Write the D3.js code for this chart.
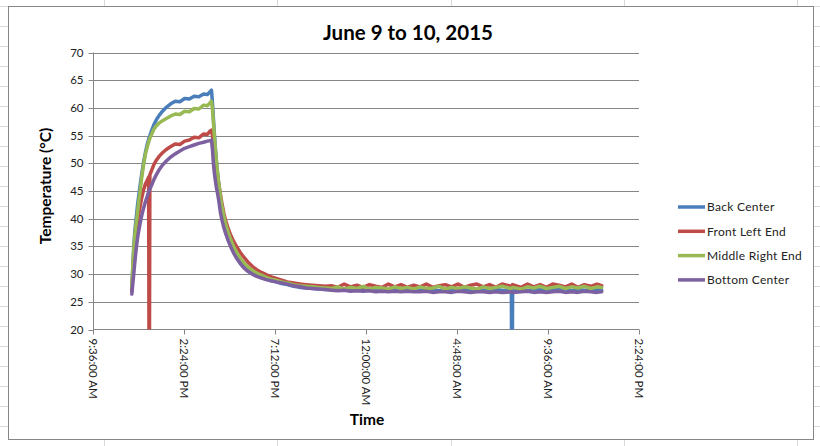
<!DOCTYPE html>
<html><head><meta charset="utf-8">
<script src="https://cdn.jsdelivr.net/npm/d3@7"></script>
<style>body{margin:0;background:#fff;} svg{display:block}</style>
</head><body>
<svg id="c" width="820" height="446"></svg>
<script>
const chartTitle = "June 9 to 10, 2015";
const xTitle = "Time";
const yTitle = "Temperature (°C)";
const seriesNames = ["Back Center", "Front Left End", "Middle Right End", "Bottom Center"];
const seriesColors = ["#4A7EBB", "#BE4B48", "#98B954", "#7D60A0"];
// minutes after 9:36 AM, June 9, 2015
const minutesAfterStart = [
  123,126,129,132,135,138,141,145,149,154,160,166,172,176,178,180,186,193,201,210,220,232,245,260,275,290,305,320,335,350,362,370,375,
  378,381,384,387,390,394,398,403,408,414,420,428,436,445,455,466,478,490,504,518,533,548,564,580,597,615,635,655,675,695,715,735,
  755,775,795,815,835,855,875,895,915,935,955,975,995,1015,1035,1055,1075,1095,1115,1135,1155,1175,1195,1215,1235,1255,1275,1295,1324,1326,1328,1355,1375,1395,1415,1435,1455,1475,1495,1515,1535,1555,1575,1595,1610
];
const backCenter = [
  27.0,31.5,35.0,37.5,39.3,40.8,42.5,44.3,46.0,48.0,50.2,52.0,53.5,54.3,54.7,55.0,56.0,57.0,57.9,58.7,59.4,60.1,60.7,61.2,61.1,61.7,61.6,62.1,62.0,62.5,62.4,62.9,63.2,
  61.0,58.2,55.5,53.0,50.8,48.3,46.0,43.8,41.9,40.1,38.6,37.1,35.8,34.6,33.5,32.5,31.7,31.0,30.4,29.9,29.5,29.1,28.8,28.6,28.3,28.1,27.8,27.6,27.5,27.4,27.3,27.2,
  27.2,27.1,27.3,27.1,27.2,27.1,27.2,27.0,27.2,27.1,27.2,27.0,27.1,27.2,27.0,27.1,27.2,27.0,27.1,27.2,27.1,27.0,27.1,27.2,27.0,27.1,27.2,27.1,27.0,0,27.1,27.2,27.0,27.1,27.2,27.0,27.1,27.2,27.1,27.0,27.2,27.1,27.0,27.2,27.1
];
const frontLeftEnd = [
  26.9,30.5,33.2,35.3,37.0,38.4,39.6,40.9,42.2,43.7,45.2,46.3,47.0,47.5,0,47.9,48.8,49.8,50.6,51.3,51.9,52.5,53.0,53.5,53.4,54.0,54.2,54.7,54.6,55.3,55.2,55.8,56.0,
  55.0,53.5,52.0,50.6,49.3,47.8,46.3,44.5,42.8,41.0,39.6,38.2,37.0,35.9,34.9,33.9,33.0,32.2,31.4,30.8,30.3,29.9,29.5,29.2,28.9,28.6,28.4,28.2,28.1,28.0,27.9,27.8,
  27.9,27.6,28.2,27.7,28.0,27.6,28.1,27.8,27.6,28.2,27.7,28.1,27.6,28.0,27.7,28.2,27.6,27.9,28.1,27.7,28.2,27.6,28.0,28.2,27.7,28.1,27.6,28.2,27.8,27.7,28.1,27.6,28.2,27.7,28.1,27.6,28.2,28.0,27.7,28.2,27.6,28.1,27.8,28.2,27.9
];
const middleRightEnd = [
  27.7,31.5,34.5,36.8,38.5,39.7,41.2,43.2,45.0,47.3,49.7,51.7,53.0,53.8,54.2,54.5,55.3,56.2,56.8,57.3,57.7,58.1,58.5,58.9,58.8,59.4,59.3,59.9,59.8,60.5,60.4,60.9,61.2,
  59.8,57.5,55.0,52.8,50.8,48.5,46.4,44.2,42.3,40.5,39.0,37.5,36.2,35.0,33.9,32.9,32.0,31.3,30.7,30.2,29.8,29.4,29.1,28.9,28.6,28.4,28.1,27.9,27.8,27.7,27.6,27.5,
  27.4,27.7,27.3,27.6,27.4,27.8,27.3,27.6,27.5,27.3,27.7,27.4,27.6,27.3,27.7,27.4,27.5,27.8,27.3,27.6,27.4,27.7,27.5,27.3,27.7,27.4,27.6,27.8,27.4,27.5,27.6,27.3,27.7,27.5,27.8,27.4,27.6,27.8,27.4,27.7,27.5,27.8,27.4,27.7,27.6
];
const bottomCenter = [
  26.4,28.3,30.0,31.9,33.6,35.2,36.5,37.9,39.1,40.5,41.9,43.1,44.1,44.8,45.1,45.4,46.1,47.1,48.0,48.9,49.7,50.4,51.1,51.7,52.2,52.7,53.0,53.3,53.6,53.8,54.0,54.1,54.2,
  52.5,50.0,48.3,47.0,45.8,44.6,43.3,41.2,39.8,38.4,37.3,36.0,34.9,33.8,32.8,31.9,31.1,30.5,30.0,29.6,29.3,29.0,28.8,28.6,28.4,28.2,27.9,27.7,27.5,27.4,27.3,27.2,
  27.1,27.0,27.1,26.9,27.0,26.9,27.0,26.8,26.9,26.8,26.9,26.8,26.9,26.8,26.8,26.9,26.7,26.8,26.8,26.7,26.9,26.8,26.7,26.8,26.8,26.7,26.8,26.7,26.8,26.8,26.7,26.8,26.9,26.7,26.8,26.7,26.8,26.9,26.7,26.8,26.7,26.9,26.8,26.7,26.8
];
const yTicks = [20, 25, 30, 35, 40, 45, 50, 55, 60, 65, 70];
const xTickLabels = ["9:36:00 AM", "2:24:00 PM", "7:12:00 PM", "12:00:00 AM", "4:48:00 AM", "9:36:00 AM", "2:24:00 PM"];
const xTickMinutes = [0, 288, 576, 864, 1152, 1440, 1728];

const allSeries = [backCenter, frontLeftEnd, middleRightEnd, bottomCenter];
const start = new Date(2015, 5, 9, 9, 36);
const toDate = m => new Date(start.getTime() + m * 60000);

const svg = d3.select("#c");
const FONT = "Lato, 'Open Sans', sans-serif";

// spreadsheet background grid
const bg = svg.append("g");
const colXs = [104.5, 277.5, 451.5, 624.5, 797.5];
colXs.forEach(x => bg.append("line").attr("x1", x).attr("x2", x).attr("y1", 0).attr("y2", 446).attr("stroke", "#d9d9d9"));
d3.range(6.5, 446, 20).forEach(y => bg.append("line").attr("x1", 0).attr("x2", 820).attr("y1", y).attr("y2", y).attr("stroke", "#d9d9d9"));

svg.append("rect").attr("x", 8.5).attr("y", 6.5).attr("width", 805).attr("height", 433)
  .attr("fill", "#fff").attr("stroke", "#868686");

const L = 93, R = 639, T = 52.5, B = 329.5;
const x = d3.scaleTime().domain([toDate(0), toDate(1728)]).range([L, R]);
const y = d3.scaleLinear().domain([20, 70]).range([B, T]);

// gridlines
svg.append("g").selectAll("line").data(yTicks.slice(1)).join("line")
  .attr("x1", L).attr("x2", R).attr("y1", d => Math.round(y(d)) + 0.5).attr("y2", d => Math.round(y(d)) + 0.5)
  .attr("stroke", "#868686");

// y axis
const yAxis = svg.append("g").attr("transform", `translate(${L + 0.5},0)`)
  .call(d3.axisLeft(y).tickValues(yTicks).tickSize(5).tickPadding(5).tickFormat(d3.format("d")));
yAxis.select(".domain").attr("stroke", "#868686").attr("d", `M0,${T}V${B}`);
yAxis.selectAll(".tick line").attr("stroke", "#868686");
yAxis.selectAll(".tick").attr("transform", d => `translate(0,${Math.round(y(d)) + 0.5})`);
yAxis.selectAll("text").attr("font-family", FONT).attr("font-size", 11.5).attr("fill", "#222");

// x axis
const xAxis = svg.append("g").attr("transform", `translate(0,${B})`)
  .call(d3.axisBottom(x).tickValues(xTickMinutes.map(toDate)).tickSize(5)
    .tickFormat((d, i) => xTickLabels[i]));
xAxis.select(".domain").attr("stroke", "#868686").attr("d", `M${L},0H${R}`);
xAxis.selectAll(".tick line").attr("stroke", "#868686");
xAxis.selectAll("text").attr("font-family", FONT).attr("font-size", 11.5).attr("fill", "#222")
  .attr("transform", "rotate(90)").attr("x", 9).attr("y", 0).attr("dy", "0.35em")
  .attr("text-anchor", "start");

// clip
svg.append("clipPath").attr("id", "plotclip").append("rect")
  .attr("x", L).attr("y", T - 5).attr("width", R - L + 5).attr("height", B - T + 5);

const line = d3.line().x(d => x(d[0])).y(d => y(d[1]));
const plot = svg.append("g").attr("clip-path", "url(#plotclip)");
allSeries.forEach((vals, i) => {
  const pts = minutesAfterStart.map((m, k) => [toDate(m), vals[k]]);
  plot.append("path").datum(pts).attr("d", line).attr("fill", "none")
    .attr("stroke", seriesColors[i]).attr("stroke-width", 3.5)
    .attr("stroke-linejoin", "round").attr("stroke-linecap", "round");
});

// titles
svg.append("text").attr("x", 408).attr("y", 40).attr("text-anchor", "middle")
  .attr("font-family", FONT).attr("font-weight", "bold").attr("font-size", 20.5).attr("fill", "#000").text(chartTitle);
svg.append("text").attr("transform", "translate(51,186) rotate(-90)").attr("text-anchor", "middle")
  .attr("font-family", FONT).attr("font-weight", "bold").attr("font-size", 15.5).attr("fill", "#000").text(yTitle);
svg.append("text").attr("x", 367).attr("y", 425).attr("text-anchor", "middle")
  .attr("font-family", FONT).attr("font-weight", "bold").attr("font-size", 15.5).attr("fill", "#000").text(xTitle);

// legend
const leg = svg.append("g");
seriesNames.forEach((n, i) => {
  const ly = 207 + i * 24.3;
  leg.append("line").attr("x1", 678).attr("x2", 705).attr("y1", ly).attr("y2", ly)
    .attr("stroke", seriesColors[i]).attr("stroke-width", 3.5);
  leg.append("text").attr("x", 707).attr("y", ly).attr("dy", "0.35em")
    .attr("font-family", FONT).attr("font-size", 12).attr("letter-spacing", 0.3).attr("fill", "#222").text(n);
});
</script>
</body></html>
